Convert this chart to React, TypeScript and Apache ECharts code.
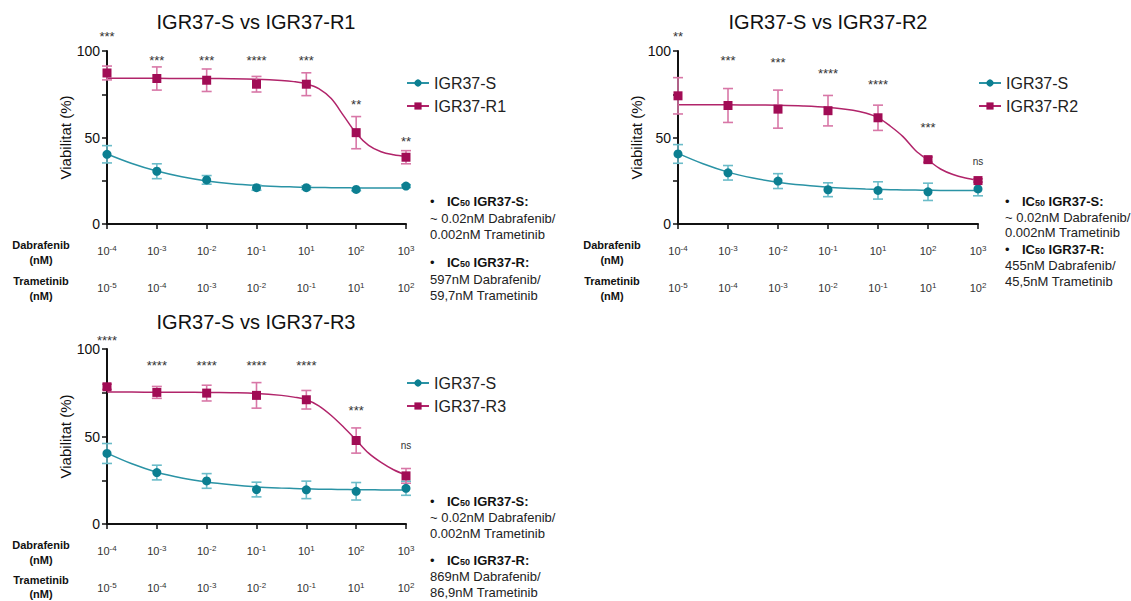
import React, { useEffect, useRef } from 'react';
import * as echarts from 'echarts';

// ---------- data ----------
const dosePos = [0, 1, 2, 3, 4, 5, 6];
const dabrafenibExp = ['-4', '-3', '-2', '-1', '1', '2', '3'];
const trametinibExp = ['-5', '-4', '-3', '-2', '-1', '1', '2'];

const sMean1 = [40.3, 30.5, 25.5, 21.0, 21.0, 20.0, 21.9];
const sErr1 = [5.0, 4.3, 2.5, 1.5, 1.0, 0.8, 0.8];
const rMean1 = [87.3, 84.1, 83.1, 80.8, 80.8, 52.8, 38.6];
const rErr1 = [4.0, 6.7, 6.5, 4.5, 6.6, 9.3, 3.8];

const sMean2 = [40.5, 29.6, 24.8, 19.8, 19.4, 18.6, 20.3];
const sErr2 = [5.4, 4.2, 4.3, 4.0, 5.0, 5.0, 4.0];
const rMean2 = [74.1, 68.5, 66.4, 65.5, 61.4, 37.2, 25.1];
const rErr2 = [10.5, 9.8, 11.0, 8.8, 7.3, 1.5, 1.0];

const sMean3 = [40.3, 29.4, 24.6, 19.7, 19.5, 18.7, 20.4];
const sErr3 = [5.7, 4.2, 4.2, 4.2, 5.0, 5.0, 4.0];
const rMean3 = [78.4, 75.2, 74.8, 73.5, 71.0, 47.7, 27.5];
const rErr3 = [1.5, 3.4, 4.5, 7.3, 5.3, 7.2, 4.2];

// fitted curves at these positions
const curveX = [0, 0.5, 1, 1.5, 2, 2.5, 3, 3.5, 3.75, 4, 4.25, 4.5, 4.75, 5, 5.25, 5.5, 5.75, 6];
const sCurve1 = [40.5, 35.0, 30.6, 27.3, 24.9, 23.2, 22.2, 21.6, 21.4, 21.2, 21.1, 21.0, 20.9, 20.9, 20.8, 20.8, 20.8, 20.8];
const rCurve1 = [84.2, 84.2, 84.2, 84.1, 84.1, 84.0, 83.7, 83.0, 82.3, 81.0, 78.3, 72.5, 62.5, 52.5, 45.5, 41.8, 40.0, 39.0];
const sCurve2 = [40.8, 34.8, 30.0, 26.6, 24.2, 22.5, 21.2, 20.5, 20.2, 20.0, 19.8, 19.7, 19.6, 19.5, 19.4, 19.4, 19.3, 19.3];
const rCurve2 = [69.0, 69.0, 68.9, 68.8, 68.6, 68.2, 67.4, 65.8, 64.2, 61.5, 56.5, 50.5, 42.5, 37.0, 31.8, 28.6, 26.6, 25.3];
const sCurve3 = [40.5, 34.4, 29.6, 26.3, 24.0, 22.4, 21.2, 20.5, 20.3, 20.1, 19.9, 19.8, 19.7, 19.6, 19.6, 19.5, 19.5, 19.5];
const rCurve3 = [75.4, 75.4, 75.3, 75.3, 75.2, 75.0, 74.6, 73.5, 72.5, 71.0, 67.5, 62.0, 55.3, 48.0, 40.5, 35.2, 31.0, 28.0];

const stars1 = ['***', '***', '***', '****', '***', '**', '**'];
const starY1 = [110, 96.5, 96.5, 96.5, 96.5, 71, 49.5];
const stars2 = ['**', '***', '***', '****', '****', '***', 'ns'];
const starY2 = [110, 96.5, 95.3, 89, 82.5, 57.5, 36];
const stars3 = ['****', '****', '****', '****', '****', '***', 'ns'];
const starY3 = [106.5, 92.5, 92.5, 92.5, 92.5, 66.8, 44.6];

const titles = ['IGR37-S vs IGR37-R1', 'IGR37-S vs IGR37-R2', 'IGR37-S vs IGR37-R3'];
const sName = 'IGR37-S';
const rNames = ['IGR37-R1', 'IGR37-R2', 'IGR37-R3'];
const icS = ['~ 0.02nM Dabrafenib/', '0.002nM Trametinib'];
const icR1 = ['597nM Dabrafenib/', '59,7nM Trametinib'];
const icR2 = ['455nM Dabrafenib/', '45,5nM Trametinib'];
const icR3 = ['869nM Dabrafenib/', '86,9nM Trametinib'];

// ---------- styles / layout ----------
const FONT = "'Liberation Sans', Arial, Helvetica, sans-serif";
const TEAL = '#0c7f91';
const TEAL_LINE = '#2a93a5';
const TEAL_ERR = '#6bbcc9';
const MAG = '#a10c55';
const MAG_LINE = '#b1246a';
const MAG_ERR = '#d877a7';

const layouts = [
  { left: 107, top: 51, width: 299, height: 173, titleX: 256, titleY: 22, legendX: 401, legendY: 70, noteX: 430, noteY: [201, 218, 234, 262, 279, 295], labelX: 41, labelY: [245, 260, 281, 296] },
  { left: 678, top: 51, width: 300, height: 173, titleX: 828, titleY: 22, legendX: 973, legendY: 70, noteX: 1005, noteY: [201, 217, 232, 249, 265, 281], labelX: 612, labelY: [245, 260, 281, 296] },
  { left: 107, top: 349, width: 299, height: 175, titleX: 256, titleY: 322, legendX: 401, legendY: 370, noteX: 430, noteY: [501, 517, 533, 560, 576, 592], labelX: 41, labelY: [545, 560, 580, 594] },
];

const panels = [
  { s: sMean1, sErr: sErr1, r: rMean1, rErr: rErr1, sCurve: sCurve1, rCurve: rCurve1, stars: stars1, starY: starY1, icR: icR1 },
  { s: sMean2, sErr: sErr2, r: rMean2, rErr: rErr2, sCurve: sCurve2, rCurve: rCurve2, stars: stars2, starY: starY2, icR: icR2 },
  { s: sMean3, sErr: sErr3, r: rMean3, rErr: rErr3, sCurve: sCurve3, rCurve: rCurve3, stars: stars3, starY: starY3, icR: icR3 },
];

function errorBarSeries(p: number, mean: number[], err: number[], color: string, name: string) {
  return {
    type: 'custom',
    name,
    xAxisIndex: p * 2,
    yAxisIndex: p,
    z: 3,
    encode: { x: 0, y: 1 },
    data: dosePos.map((x, i) => [x, mean[i], err[i]]),
    renderItem: (params: any, api: any) => {
      const x = api.value(0);
      const m = api.value(1);
      const e = api.value(2);
      const top = api.coord([x, m + e]);
      const bot = api.coord([x, m - e]);
      const st = { stroke: color, lineWidth: 1.6 };
      return {
        type: 'group',
        children: [
          { type: 'line', shape: { x1: top[0], y1: top[1], x2: bot[0], y2: bot[1] }, style: st },
          { type: 'line', shape: { x1: top[0] - 5, y1: top[1], x2: top[0] + 5, y2: top[1] }, style: st },
          { type: 'line', shape: { x1: bot[0] - 5, y1: bot[1], x2: bot[0] + 5, y2: bot[1] }, style: st },
        ],
      };
    },
  };
}

function buildOption() {
  const grid: any[] = [];
  const xAxis: any[] = [];
  const yAxis: any[] = [];
  const series: any[] = [];
  const legend: any[] = [];
  const graphic: any[] = [];

  const axisLineStyle = { color: '#111', width: 2 };
  const supRich = {
    n: { fontSize: 11, color: '#333', fontFamily: FONT, lineHeight: 13 },
    s: { fontSize: 8, color: '#333', fontFamily: FONT, verticalAlign: 'top', lineHeight: 13 },
  };

  panels.forEach((pd, p) => {
    const L = layouts[p];
    grid.push({ left: L.left, top: L.top, width: L.width, height: L.height, containLabel: false });
    xAxis.push({
      type: 'value', gridIndex: p, min: 0, max: 6, interval: 1, position: 'bottom',
      axisLine: { show: true, lineStyle: axisLineStyle },
      axisTick: { show: true, length: 5, lineStyle: { color: '#111', width: 1.5 } },
      splitLine: { show: false },
      axisLabel: {
        margin: 20,
        formatter: (v: number) => `{n|10}{s|${dabrafenibExp[Math.round(v)]}}`,
        rich: supRich,
      },
    });
    xAxis.push({
      type: 'value', gridIndex: p, min: 0, max: 6, interval: 1, position: 'bottom',
      axisLine: { show: false }, axisTick: { show: false }, splitLine: { show: false },
      axisLabel: {
        margin: 57,
        formatter: (v: number) => `{n|10}{s|${trametinibExp[Math.round(v)]}}`,
        rich: supRich,
      },
    });
    yAxis.push({
      type: 'value', gridIndex: p, min: 0, max: 100, interval: 50,
      name: 'Viabilitat (%)', nameLocation: 'middle', nameGap: 34,
      nameTextStyle: { fontSize: 15, color: '#111', fontFamily: FONT },
      axisLine: { show: true, lineStyle: axisLineStyle },
      axisTick: { show: true, length: 5, lineStyle: { color: '#111', width: 1.5 } },
      minorTick: { show: true, splitNumber: 2, length: 5, lineStyle: { color: '#111', width: 1.5 } },
      splitLine: { show: false },
      minorSplitLine: { show: false },
      axisLabel: { fontSize: 14, color: '#111', margin: 7, fontFamily: FONT },
    });

    series.push({
      type: 'line', name: sName, xAxisIndex: p * 2, yAxisIndex: p, z: 2,
      data: curveX.map((x, i) => [x, pd.sCurve[i]]),
      smooth: 0.35, showSymbol: false, symbol: 'circle', symbolSize: 9,
      itemStyle: { color: TEAL }, lineStyle: { color: TEAL_LINE, width: 1.5 },
    });
    series.push({
      type: 'line', name: rNames[p], xAxisIndex: p * 2, yAxisIndex: p, z: 2,
      data: curveX.map((x, i) => [x, pd.rCurve[i]]),
      smooth: 0.35, showSymbol: false, symbol: 'rect', symbolSize: 9,
      itemStyle: { color: MAG }, lineStyle: { color: MAG_LINE, width: 1.5 },
    });
    series.push(errorBarSeries(p, pd.s, pd.sErr, TEAL_ERR, sName + ' sd ' + p));
    series.push(errorBarSeries(p, pd.r, pd.rErr, MAG_ERR, rNames[p] + ' sd'));
    series.push({
      type: 'scatter', name: sName + ' pts ' + p, xAxisIndex: p * 2, yAxisIndex: p, z: 4,
      symbol: 'circle', symbolSize: 9, itemStyle: { color: TEAL, opacity: 1 },
      data: dosePos.map((x, i) => [x, pd.s[i]]),
    });
    series.push({
      type: 'scatter', name: rNames[p] + ' pts', xAxisIndex: p * 2, yAxisIndex: p, z: 4,
      symbol: 'rect', symbolSize: 9, itemStyle: { color: MAG, opacity: 1 },
      data: dosePos.map((x, i) => [x, pd.r[i]]),
    });
    const starTexts = pd.stars;
    series.push({
      type: 'custom', name: 'sig ' + p, xAxisIndex: p * 2, yAxisIndex: p, z: 5, clip: false,
      encode: { x: 0, y: 1 },
      data: dosePos.map((x, i) => [x, pd.starY[i]]),
      renderItem: (params: any, api: any) => {
        const pt = api.coord([api.value(0), api.value(1)]);
        const txt = starTexts[params.dataIndex];
        const ns = txt === 'ns';
        return {
          type: 'text', x: pt[0], y: pt[1] + (ns ? 0 : 3),
          style: { text: txt, fill: '#333', font: `${ns ? 10 : 13}px ${FONT}`, align: 'center', verticalAlign: 'middle' },
        };
      },
    });

    legend.push({
      left: L.legendX, top: L.legendY, orient: 'vertical', itemWidth: 22, itemHeight: 9, itemGap: 7,
      selectedMode: false,
      data: [sName, rNames[p]],
      textStyle: { fontSize: 16, color: '#222', fontFamily: FONT },
    });

    // titles
    graphic.push({
      type: 'text', x: L.titleX, y: L.titleY,
      style: { text: titles[p], font: `20px ${FONT}`, fill: '#111', align: 'center', verticalAlign: 'middle' },
    });
    // row labels
    const rowLabels = ['Dabrafenib', '(nM)', 'Trametinib', '(nM)'];
    rowLabels.forEach((t, i) => {
      graphic.push({
        type: 'text', x: L.labelX, y: L.labelY[i],
        style: { text: t, font: `bold 11px ${FONT}`, fill: '#111', align: 'center', verticalAlign: 'middle' },
      });
    });
    // IC50 notes
    const noteRich = {
      bul: { fontSize: 13, width: 17, fill: '#111', fontFamily: FONT },
      b: { fontSize: 13, fontWeight: 'bold', fill: '#111', fontFamily: FONT },
      sub: { fontSize: 9, fontWeight: 'bold', fill: '#111', fontFamily: FONT, verticalAlign: 'bottom' },
    };
    const headers = ['IGR37-S:', 'IGR37-R:'];
    const bodies = [icS, pd.icR];
    [0, 1].forEach((k) => {
      graphic.push({
        type: 'text', x: L.noteX, y: L.noteY[k * 3],
        style: {
          text: `{bul|•}{b|IC}{sub|50}{b| ${headers[k]}}`, rich: noteRich,
          font: `13px ${FONT}`, fill: '#111', align: 'left', verticalAlign: 'middle',
        },
      });
      bodies[k].forEach((line, j) => {
        graphic.push({
          type: 'text', x: L.noteX, y: L.noteY[k * 3 + 1 + j],
          style: { text: line, font: `13px ${FONT}`, fill: '#222', align: 'left', verticalAlign: 'middle' },
        });
      });
    });
  });

  return {
    animation: false,
    backgroundColor: '#fff',
    textStyle: { fontFamily: FONT },
    grid, xAxis, yAxis, series, legend, graphic,
  };
}

export default function App() {
  const ref = useRef<HTMLDivElement>(null);
  useEffect(() => {
    if (!ref.current) return;
    const chart = echarts.init(ref.current, null, { renderer: 'svg' });
    chart.setOption(buildOption() as any);
    return () => chart.dispose();
  }, []);
  return (
    <div
      ref={ref}
      style={{ position: 'absolute', left: 0, top: 0, width: 1131, height: 601, background: '#fff' }}
    />
  );
}
